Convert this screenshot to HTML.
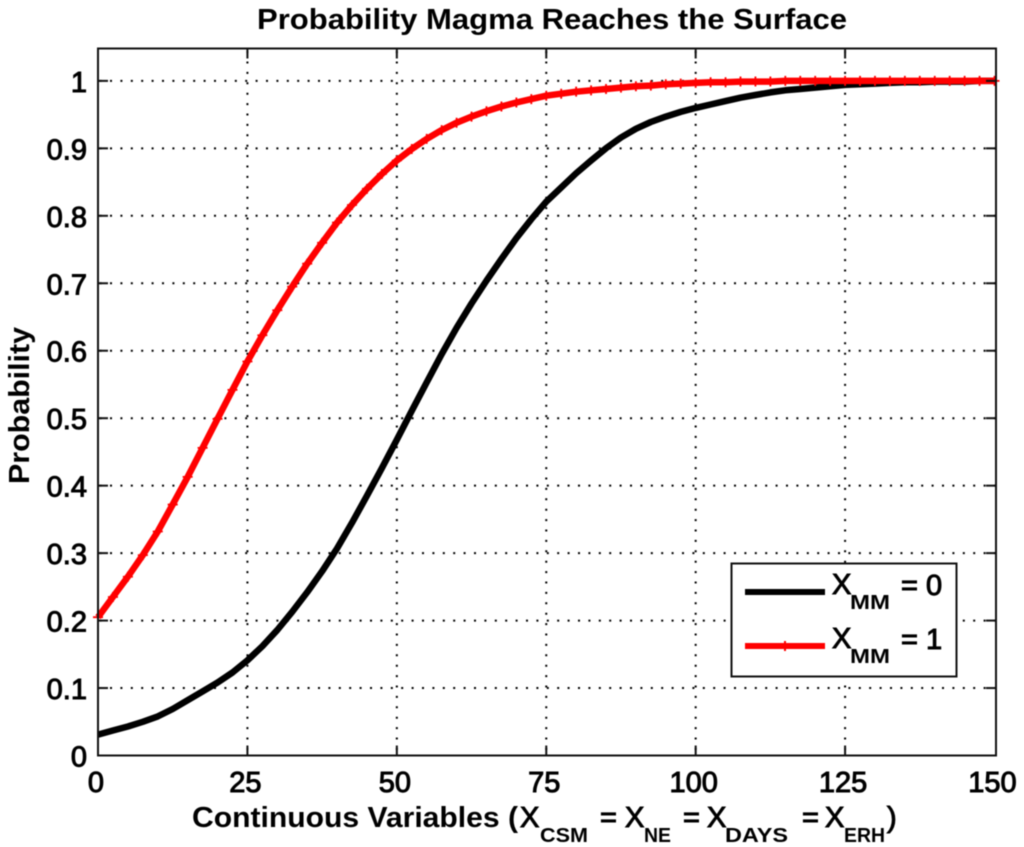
<!DOCTYPE html>
<html lang="en">
<head>
<meta charset="utf-8">
<title>Probability Magma Reaches the Surface</title>
<style>
html,body{margin:0;padding:0;background:#fff;}
body{width:1024px;height:847px;overflow:hidden;}
svg{display:block;filter:blur(0.4px);}
text{font-family:"Liberation Sans",sans-serif;fill:#000;stroke:#000;stroke-width:1px;}
text.b{font-weight:bold;stroke-width:0;}
</style>
</head>
<body>
<svg id="chart" width="1024" height="847" viewBox="0 0 1024 847" xmlns="http://www.w3.org/2000/svg">
  <rect x="0" y="0" width="1024" height="847" fill="#fff"/>
  <g id="grid"></g>
  <g id="series"></g>
  <g id="axes"></g>
  <text class="b" x="257" y="29" font-size="29" textLength="590" lengthAdjust="spacingAndGlyphs">Probability Magma Reaches the Surface</text>
  <text class="b" transform="translate(29,484) rotate(-90)" font-size="29" textLength="157" lengthAdjust="spacingAndGlyphs">Probability</text>
  <g>
    <text class="b" x="192" y="827" font-size="29" textLength="326" lengthAdjust="spacingAndGlyphs">Continuous Variables (</text>
    <text x="520" y="827" font-size="29">X</text>
    <text class="b" x="540" y="842" font-size="20" textLength="48" lengthAdjust="spacingAndGlyphs">CSM</text>
    <text x="600" y="827" font-size="29">=</text>
    <text x="625" y="827" font-size="29">X</text>
    <text class="b" x="644" y="842" font-size="20" textLength="27" lengthAdjust="spacingAndGlyphs">NE</text>
    <text x="683" y="827" font-size="29">=</text>
    <text x="707" y="827" font-size="29">X</text>
    <text class="b" x="725" y="842" font-size="20" textLength="63" lengthAdjust="spacingAndGlyphs">DAYS</text>
    <text x="802" y="827" font-size="29">=</text>
    <text x="825" y="827" font-size="29">X</text>
    <text class="b" x="844" y="842" font-size="20" textLength="41" lengthAdjust="spacingAndGlyphs">ERH</text>
    <text x="887" y="827" font-size="29">)</text>
  </g>
  <g>
    <rect x="731.5" y="563.5" width="225" height="113" fill="#fff" stroke="#111" stroke-width="2"/>
    <line x1="745" x2="825" y1="592" y2="592" stroke="#000" stroke-width="6"/>
    <text x="832" y="594" font-size="29">X</text>
    <text class="b" x="850" y="609" font-size="20" textLength="40" lengthAdjust="spacingAndGlyphs">MM</text>
    <text x="901" y="595" font-size="29">= 0</text>
    <line x1="745" x2="825" y1="646" y2="646" stroke="#f00" stroke-width="6"/>
    <line x1="785" x2="785" y1="641" y2="651" stroke="#f00" stroke-width="2"/>
    <text x="832" y="648" font-size="29">X</text>
    <text class="b" x="850" y="663" font-size="20" textLength="40" lengthAdjust="spacingAndGlyphs">MM</text>
    <text x="901" y="649" font-size="29">= 1</text>
  </g>
</svg>
<script>
var xTicks = [0, 25, 50, 75, 100, 125, 150];
var yTicks = [0, 0.1, 0.2, 0.3, 0.4, 0.5, 0.6, 0.7, 0.8, 0.9, 1];
var yTickLabels = ["0", "0.1", "0.2", "0.3", "0.4", "0.5", "0.6", "0.7", "0.8", "0.9", "1"];
var xValues = [0,2.5,5,7.5,10,12.5,15,17.5,20,22.5,25,27.5,30,32.5,35,37.5,40,42.5,45,47.5,50,52.5,55,57.5,60,62.5,65,67.5,70,72.5,75,77.5,80,82.5,85,87.5,90,92.5,95,97.5,100,102.5,105,107.5,110,112.5,115,117.5,120,122.5,125,127.5,130,132.5,135,137.5,140,142.5,145,147.5,150];
var probXmm0 = [.031,.037,.043,.050,.058,.069,.082,.095,.108,.123,.141,.162,.186,.213,.242,.273,.307,.345,.385,.426,.468,.511,.553,.595,.634,.670,.704,.736,.767,.795,.821,.842,.863,.882,.900,.916,.929,.939,.947,.954,.960,.965,.970,.975,.979,.983,.986,.988,.990,.992,.994,.995,.996,.997,.998,.998,.999,.999,.999,1,1];
var probXmm1 = [.205,.235,.265,.297,.332,.372,.413,.456,.499,.542,.584,.623,.660,.695,.729,.760,.790,.816,.840,.862,.882,.899,.914,.927,.938,.947,.955,.962,.968,.973,.978,.981,.984,.986,.988,.990,.992,.993,.995,.996,.997,.998,.998,.999,.999,.999,1,1,1,1,1,1,1,1,1,1,1,1,1,1,1];

var NS = 'http://www.w3.org/2000/svg';
var plotLeft = 98, plotRight = 996, plotTop = 48.5, plotBottom = 755.5;
var xMax = 150, yMax = 1.048;
function xScale(v) { return plotLeft + (v / xMax) * (plotRight - plotLeft - 1.5); }
function yScale(v) { return plotBottom - (v / yMax) * (plotBottom - plotTop); }
function make(tag, attrs) {
  var el = document.createElementNS(NS, tag);
  for (var k in attrs) { el.setAttribute(k, attrs[k]); }
  return el;
}
var grid = document.getElementById('grid');
var axes = document.getElementById('axes');
var series = document.getElementById('series');

xTicks.forEach(function (t) {
  var x = xScale(t);
  if (t > 0 && t < xMax) {
    var g = make('line', {x1: x, x2: x, y1: plotBottom, y2: plotTop, stroke: '#000', 'stroke-width': 2, 'stroke-dasharray': '2 8.4', 'stroke-dashoffset': -16});
    
    
    grid.appendChild(g);
    var t1 = make('line', {x1: x, x2: x, y1: plotBottom, y2: plotBottom - 10, stroke: '#111', 'stroke-width': 2});
    
    
    axes.appendChild(t1);
    var t2 = make('line', {x1: x, x2: x, y1: plotTop, y2: plotTop + 10, stroke: '#111', 'stroke-width': 2});
    
    
    axes.appendChild(t2);
  }
  var lab = make('text', {x: x - 2, y: 792, 'font-size': 29, 'text-anchor': 'middle'});
  
  
  lab.textContent = String(t);
  axes.appendChild(lab);
});

yTicks.forEach(function (t, i) {
  var y = yScale(t);
  if (t > 0) {
    var g = make('line', {x1: plotLeft, x2: plotRight, y1: y, y2: y, stroke: '#000', 'stroke-width': 2, 'stroke-dasharray': '2 8.4', 'stroke-dashoffset': -12});
    
    
    grid.appendChild(g);
    var t1 = make('line', {x1: plotLeft, x2: plotLeft + 10, y1: y, y2: y, stroke: '#111', 'stroke-width': 2});
    
    
    axes.appendChild(t1);
    var t2 = make('line', {x1: plotRight, x2: plotRight - 10, y1: y, y2: y, stroke: '#111', 'stroke-width': 2});
    
    
    axes.appendChild(t2);
  }
  var lab = make('text', {x: 87, y: y + 11, 'font-size': 29, 'text-anchor': 'end'});
  
  
  lab.textContent = yTickLabels[i];
  axes.appendChild(lab);
});

var frame = make('rect', {x: plotLeft, y: plotTop, width: plotRight - plotLeft, height: plotBottom - plotTop, fill: 'none', stroke: '#111', 'stroke-width': 2});


axes.appendChild(frame);

function linePath(values) {
  return values.map(function (v, i) {
    return (i ? 'L' : 'M') + xScale(xValues[i]).toFixed(1) + ' ' + yScale(v).toFixed(1);
  }).join(' ');
}
var blackLine = make('path', {d: linePath(probXmm0), fill: 'none', stroke: '#000', 'stroke-width': 6.5, 'stroke-linejoin': 'round'});


series.appendChild(blackLine);

var redLine = make('path', {d: linePath(probXmm1), fill: 'none', stroke: '#f00', 'stroke-width': 6.5, 'stroke-linejoin': 'round'});


series.appendChild(redLine);

probXmm1.forEach(function (v, i) {
  var cx = xScale(xValues[i]), cy = yScale(v);
  var m = make('path', {d: 'M' + (cx - 5) + ' ' + cy + 'H' + (cx + 5) + 'M' + cx + ' ' + (cy - 5) + 'V' + (cy + 5), stroke: '#f00', 'stroke-width': 1.8, fill: 'none'});
  
  
  series.appendChild(m);
});
</script>
</body>
</html>
